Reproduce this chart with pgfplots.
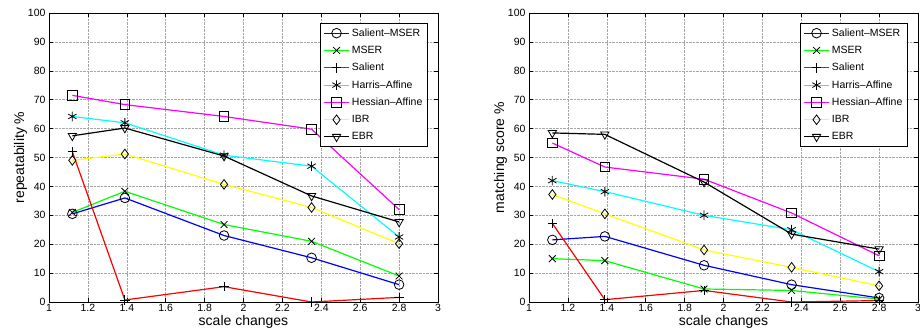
\documentclass[border=0pt]{standalone}
\usepackage{pgfplots}
\pgfplotsset{compat=1.18}
\usepackage{fontspec}
\setmainfont{Liberation Sans}
\definecolor{myyellow}{rgb}{1,1,0}
\definecolor{mygreen}{rgb}{0,1,0}
\definecolor{mycyan}{rgb}{0,1,1}
\definecolor{mymag}{rgb}{1,0,1}
\pgfplotsset{
  mstyle/.style={
    scale only axis, width=389pt, height=289pt,
    xmin=1, xmax=3, ymin=0, ymax=100,
    xtick={1,1.2,...,3.01}, ytick={0,10,...,100},
    xticklabels={1,1.2,1.4,1.6,1.8,2,2.2,2.4,2.6,2.8,3},
    grid=major, grid style={densely dotted, gray!70, line width=0.5pt},
    tick align=inside, tick pos=both, major tick length=4pt,
    axis line style={line width=0.8pt},
    tick style={black, line width=0.5pt},
    /pgf/number format/assume math mode=true,
    ticklabel style={font=\fontsize{10.5}{11}\selectfont},
    xticklabel style={yshift=1pt},
    label style={font=\fontsize{14}{15}\selectfont},
    xlabel={scale changes},
    xlabel style={yshift=3pt},
    ylabel style={yshift=-6pt},
    legend cell align=left,
    legend style={at={(0.974,0.965)}, anchor=north east,
      font=\fontsize{10.5}{11}\selectfont, draw=black, line width=1pt,
      row sep=4.3pt, inner sep=3pt},
    legend image code/.code={
      \draw[#1, mark=none] (0cm,0cm) -- (0.9cm,0cm);
      \draw[#1] plot coordinates {(0.45cm,0cm)};},
    every axis plot/.append style={line width=1.2pt},
  },
  mk/.style={mark size=4.8pt, mark options={draw=black, fill=none, solid, line width=0.8pt}},
  mkt/.style={mark size=4.8pt, mark options={draw=black, fill=none, solid, line width=0.8pt, rotate=180}},
}
\begin{document}
\begin{tikzpicture}
\begin{axis}[mstyle, name=left, at={(0,0)}, anchor=south west, ylabel={repeatability \%}]
\addplot[blue, mark=o, mk] coordinates {(1.12,30.5) (1.39,36) (1.9,23) (2.35,15.3) (2.8,6)};
\addlegendentry{Salient--MSER}
\addplot[mygreen, mark=x, mk] coordinates {(1.12,31) (1.39,38.3) (1.9,26.8) (2.35,21) (2.8,9)};
\addlegendentry{MSER}
\addplot[red, mark=+, mk] coordinates {(1.12,52) (1.39,0.7) (1.9,5.3) (2.35,0) (2.8,1.6)};
\addlegendentry{Salient}
\addplot[mycyan, mark=asterisk, mk] coordinates {(1.12,64.2) (1.39,62) (1.9,50.8) (2.35,47) (2.8,22.5)};
\addlegendentry{Harris--Affine}
\addplot[mymag, mark=square, mk] coordinates {(1.12,71.5) (1.39,68.3) (1.9,64.2) (2.35,59.8) (2.8,32)};
\addlegendentry{Hessian--Affine}
\addplot[myyellow, mark=diamond, mk] coordinates {(1.12,49) (1.39,51.2) (1.9,40.7) (2.35,32.7) (2.8,20.2)};
\addlegendentry{IBR}
\addplot[black, mark=triangle, mkt] coordinates {(1.12,57.5) (1.39,60.2) (1.9,50.5) (2.35,36.7) (2.8,27.7)};
\addlegendentry{EBR}
\end{axis}
\begin{axis}[mstyle, name=right, at={(480pt,0)}, anchor=south west, ylabel={matching score \%}]
\addplot[blue, mark=o, mk] coordinates {(1.12,21.5) (1.39,22.7) (1.9,12.7) (2.35,6) (2.8,1.4)};
\addlegendentry{Salient--MSER}
\addplot[mygreen, mark=x, mk] coordinates {(1.12,15) (1.39,14.3) (1.9,4.5) (2.35,4) (2.8,1)};
\addlegendentry{MSER}
\addplot[red, mark=+, mk] coordinates {(1.12,27.2) (1.39,0.8) (1.9,4) (2.35,0) (2.8,0.5)};
\addlegendentry{Salient}
\addplot[mycyan, mark=asterisk, mk] coordinates {(1.12,42) (1.39,38.2) (1.9,30) (2.35,25) (2.8,10.5)};
\addlegendentry{Harris--Affine}
\addplot[mymag, mark=square, mk] coordinates {(1.12,55) (1.39,46.7) (1.9,42.5) (2.35,30.8) (2.8,16)};
\addlegendentry{Hessian--Affine}
\addplot[myyellow, mark=diamond, mk] coordinates {(1.12,37.2) (1.39,30.5) (1.9,18) (2.35,12) (2.8,5.6)};
\addlegendentry{IBR}
\addplot[black, mark=triangle, mkt] coordinates {(1.12,58.5) (1.39,58) (1.9,41.5) (2.35,23.5) (2.8,18.3)};
\addlegendentry{EBR}
\end{axis}
\pgfresetboundingbox
\path[use as bounding box] (-49pt,-32pt) rectangle (871pt,302pt);
\end{tikzpicture}
\end{document}
